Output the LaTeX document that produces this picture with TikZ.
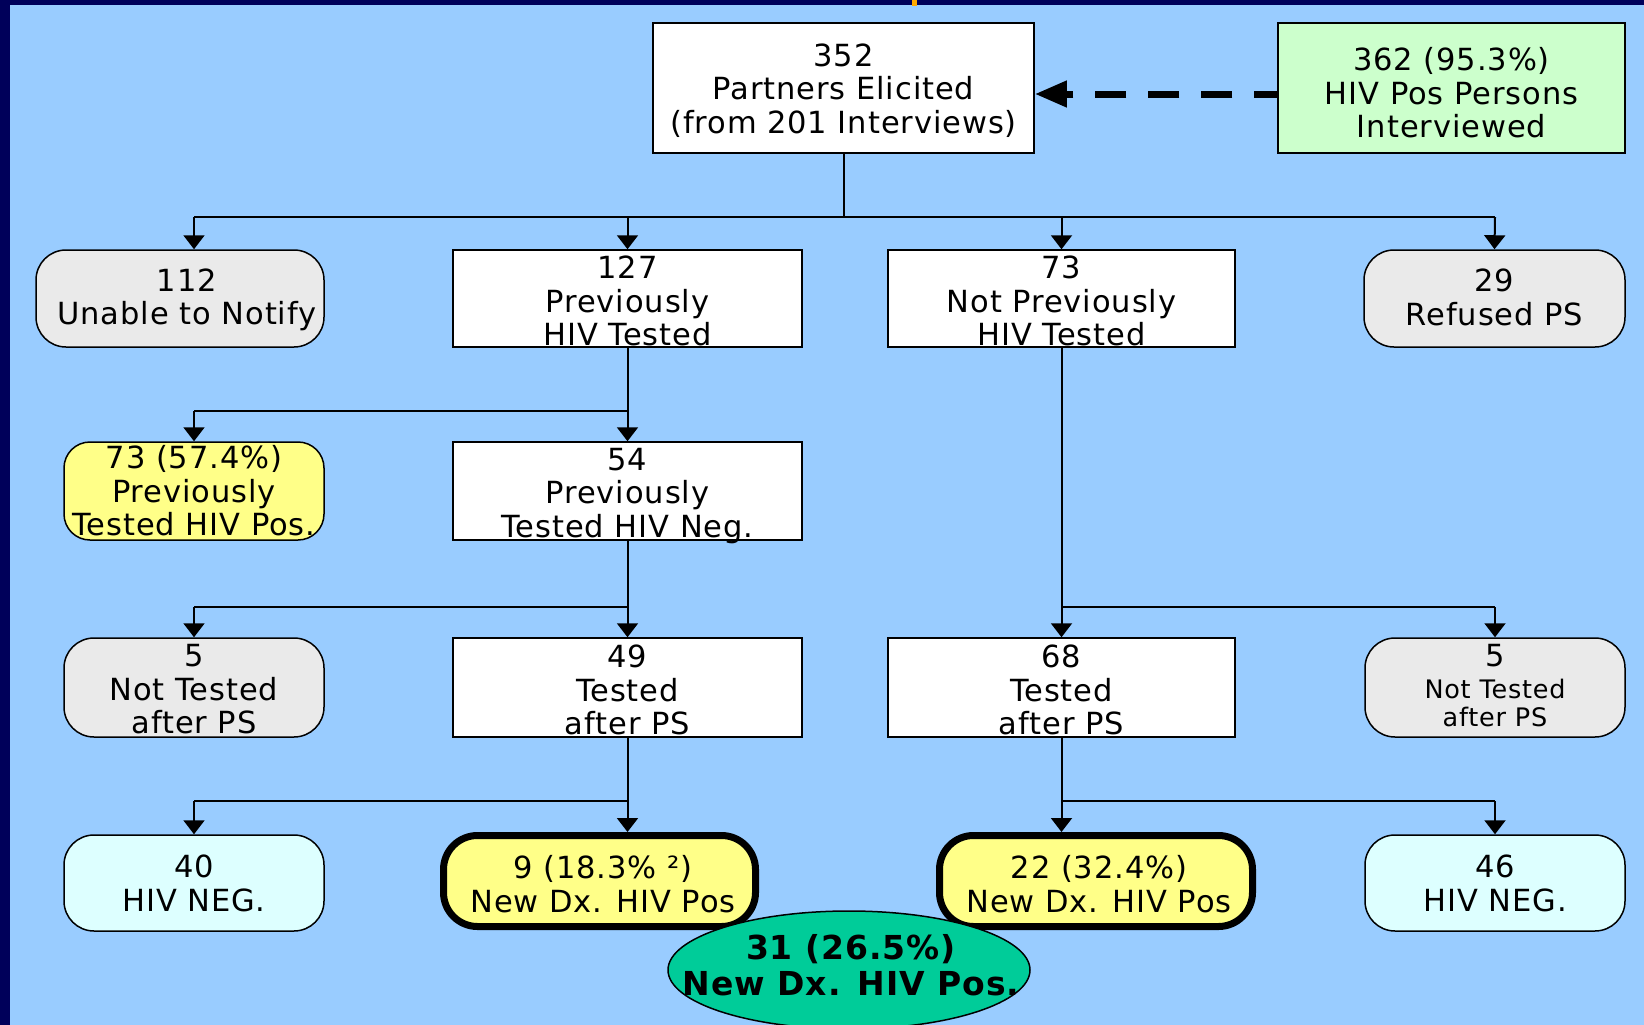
\documentclass[tikz,border=0pt]{standalone}
\usepackage{fontspec}
\setmainfont{DejaVu Sans}[LetterSpace=3]
\usetikzlibrary{arrows.meta,shapes.geometric}
\definecolor{bgblue}{HTML}{99CCFF}
\definecolor{navy}{HTML}{00005A}
\definecolor{boxgray}{HTML}{EAEAEA}
\definecolor{boxyellow}{HTML}{FFFF88}
\definecolor{boxcyan}{HTML}{DDFFFF}
\definecolor{boxgreen}{HTML}{CCFFCC}
\definecolor{teal}{HTML}{00CC99}
\definecolor{orangemark}{HTML}{FFAA00}
\begin{document}
\begin{tikzpicture}[x=1pt,y=-1pt,
  box/.style={draw=black, line width=1.5pt, fill=white, inner sep=0pt},
  rbox/.style={box, rounded corners=30pt},
  graybox/.style={rbox, fill=boxgray},
  yellowbox/.style={rbox, fill=boxyellow},
  cyanbox/.style={rbox, fill=boxcyan},
  thickbox/.style={rbox, fill=boxyellow, line width=7pt, rounded corners=34pt},
  txt/.style={font=\fontsize{30.5pt}{33.5pt}\selectfont, align=center, inner sep=0pt},
  smalltxt/.style={font=\fontsize{25.5pt}{28pt}\selectfont, align=center, inner sep=0pt},
  boldtxt/.style={font=\fontsize{33pt}{36pt}\selectfont\bfseries, align=center, inner sep=0pt},
  ln/.style={line width=2pt},
  arr/.style={line width=2pt, -{Triangle[width=21pt,length=14pt]}},
  dasharr/.style={line width=7pt, dash pattern=on 31pt off 22pt, dash phase=8pt,
                  -{Triangle[width=25pt,length=32pt]}}
]
\useasboundingbox (0,0) rectangle (1644,1025);
\clip (0,0) rectangle (1644,1025);
% background
\fill[navy] (0,0) rectangle (1644,1025);
\fill[bgblue] (10,5) rectangle (1644,1025);
\fill[orangemark] (912,0) rectangle (917,6);

% top row
\node[box, minimum width=381pt, minimum height=130pt] (T) at (843.5,88) {};
\node[txt] (Tt) at (843.5,90.5) {352\\Partners Elicited\\(from 201 Interviews)};
\node[box, fill=boxgreen, minimum width=347pt, minimum height=130pt] (G) at (1451.5,88) {};
\node[txt] (Gt) at (1451.5,93) {362 (95.3\%)\\HIV Pos Persons\\Interviewed};

% row 1
\node[graybox, minimum width=288pt, minimum height=97pt] (U) at (180,298.5) {};
\node[txt] (Ut) at (187,300) {112\\Unable to Notify};
\node[box, minimum width=349pt, minimum height=97pt] (P) at (627.5,298.5) {};
\node[txt] (Pt) at (627.5,301) {127\\Previously\\HIV Tested};
\node[box, minimum width=347pt, minimum height=97pt] (N) at (1061.5,298.5) {};
\node[txt] (Nt) at (1061.5,301) {73\\Not Previously\\HIV Tested};
\node[graybox, minimum width=261pt, minimum height=97pt] (R) at (1494.5,298.5) {};
\node[txt] (Rt) at (1494.5,297.5) {29\\Refused PS};

% row 2
\node[yellowbox, rounded corners=26pt, minimum width=260pt, minimum height=98pt] (YP) at (194,491) {};
\node[txt] (YPt) at (194,491) {73 (57.4\%)\\Previously\\Tested HIV Pos.};
\node[box, minimum width=349pt, minimum height=98pt] (NG) at (627.5,491) {};
\node[txt] (NGt) at (627.5,496) {54\\Previously\\Tested HIV Neg.};

% row 3
\node[graybox, minimum width=260pt, minimum height=99pt] (NT1) at (194,687.5) {};
\node[txt] (NT1t) at (194,689.5) {5\\Not Tested\\after PS};
\node[box, minimum width=349pt, minimum height=99pt] (T49) at (627.5,687.5) {};
\node[txt] (T49t) at (627.5,690) {49\\Tested\\after PS};
\node[box, minimum width=347pt, minimum height=99pt] (T68) at (1061.5,687.5) {};
\node[txt] (T68t) at (1061.5,690) {68\\Tested\\after PS};
\node[graybox, minimum width=260pt, minimum height=99pt] (NT2) at (1495,687.5) {};
\node[txt] (NT2a) at (1495,656) {5};
\node[smalltxt] (NT2b) at (1495,702.5) {Not Tested\\after PS};

% row 4
\node[cyanbox, minimum width=260pt, minimum height=96pt] (NEG1) at (194,883) {};
\node[txt] (NEG1t) at (194,883.5) {40\\HIV NEG.};
\node[thickbox, minimum width=312pt, minimum height=91pt] (D9) at (599.5,881) {};
\node[txt] (D9t) at (603,884) {9 (18.3\% ²)\\New Dx. HIV Pos};
\node[thickbox, minimum width=313pt, minimum height=91pt] (D22) at (1096,881) {};
\node[txt] (D22t) at (1099,884) {22 (32.4\%)\\New Dx. HIV Pos};
\node[cyanbox, minimum width=260pt, minimum height=96pt] (NEG2) at (1495,883) {};
\node[txt] (NEG2t) at (1495,883.5) {46\\HIV NEG.};

% total ellipse
\node[ellipse, draw=black, line width=1.5pt, fill=teal, inner sep=0pt,
      minimum width=362pt, minimum height=118pt] (E) at (849,970) {};
\node[boldtxt] (Et) at (851,965.5) {31 (26.5\%)\\New Dx. HIV Pos.};

% dashed arrow
\draw[dasharr] ([yshift=-6pt]G.west) -- ([yshift=-6pt]T.east);

% bus 1
\coordinate (b1a) at (194,217);
\coordinate (b1d) at (1495,217);
\draw[ln] (T.south) -- (T.south |- b1a);
\draw[ln] (b1a) -- (b1d);
\draw[arr] (b1a) -- (b1a |- U.north);
\draw[arr] (P.north |- b1a) -- (P.north);
\draw[arr] (N.north |- b1a) -- (N.north);
\draw[arr] (b1d) -- (R.north);

% bus 2
\coordinate (b2a) at (194,411);
\draw[ln] (P.south) -- (P.south |- b2a) -- (b2a);
\draw[arr] (b2a) -- (YP.north);
\draw[arr] (P.south |- b2a) -- (NG.north);

% bus 3 left
\coordinate (b3a) at (194,607);
\draw[ln] (NG.south) -- (NG.south |- b3a) -- (b3a);
\draw[arr] (b3a) -- (NT1.north);
\draw[arr] (NG.south |- b3a) -- (T49.north);
% bus 3 right
\coordinate (b3d) at (1495,607);
\draw[ln] (N.south) -- (N.south |- b3d) -- (b3d);
\draw[arr] (N.south |- b3d) -- (T68.north);
\draw[arr] (b3d) -- (NT2.north);

% bus 4 left
\coordinate (b4a) at (194,801);
\draw[ln] (T49.south) -- (T49.south |- b4a) -- (b4a);
\draw[arr] (b4a) -- (NEG1.north);
\draw[arr] (T49.south |- b4a) -- (T49.south |- D9.north);
% bus 4 right
\coordinate (b4d) at (1495,801);
\draw[ln] (T68.south) -- (T68.south |- b4d) -- (b4d);
\draw[arr] (T68.south |- b4d) -- (T68.south |- D22.north);
\draw[arr] (b4d) -- (NEG2.north);
\end{tikzpicture}
\end{document}
